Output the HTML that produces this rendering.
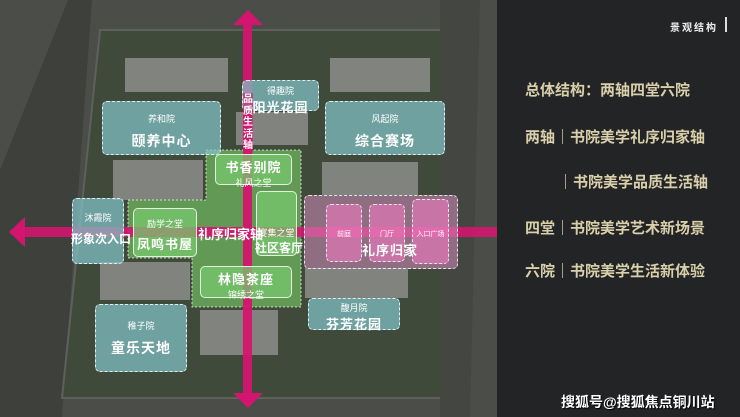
<!DOCTYPE html>
<html><head><meta charset="utf-8"><style>
*{margin:0;padding:0;box-sizing:border-box}
body{width:740px;height:417px;overflow:hidden;background:#4b4d48;font-family:"Liberation Sans","Noto Sans CJK SC",sans-serif;position:relative}
.a{position:absolute}
.bld{position:absolute;background:#8d8e8b;opacity:.85}
.box{position:absolute;border:1px dashed rgba(255,255,255,.8);border-radius:5px;color:#fff;text-align:center}
.teal{background:rgba(130,195,200,.72)}
.gr{background:rgba(120,200,110,.75);border:1px solid rgba(255,255,255,.8)}
.pk{background:rgba(240,120,190,.6)}
.s{font-size:9px;display:block}
.b{font-size:14px;font-weight:bold;display:block;letter-spacing:1px}
.rt{position:absolute;color:#d9cfaa;font-weight:bold;font-size:15px;font-family:"Liberation Sans","Noto Sans CJK SC",sans-serif;white-space:nowrap}
</style></head><body>
<svg class="a" style="left:0;top:0" width="500" height="417">
<polygon points="68,0 92,0 62,417 0,417 0,170" fill="#3e403c"/>
<polygon points="100,30 470,30 462,398 62,398" fill="#3f4a3b" stroke="#5e605c" stroke-width="2"/>
<polygon points="440,0 480,0 470,417 440,417" fill="#444642"/>
</svg>
<div class="bld" style="left:125px;top:58px;width:103px;height:34px"></div>
<div class="bld" style="left:330px;top:58px;width:100px;height:34px"></div>
<div class="bld" style="left:236px;top:112px;width:72px;height:33px"></div>
<div class="bld" style="left:113px;top:160px;width:90px;height:40px"></div>
<div class="bld" style="left:322px;top:162px;width:96px;height:33px"></div>
<div class="bld" style="left:100px;top:262px;width:90px;height:38px"></div>
<div class="bld" style="left:305px;top:268px;width:103px;height:30px"></div>
<div class="bld" style="left:200px;top:310px;width:78px;height:45px"></div>
<svg class="a" style="left:0;top:0" width="500" height="417">
<polygon points="206,150 301,150 301,307 192,307 192,258 128,258 128,200 206,200" fill="rgba(110,180,95,.75)" stroke="rgba(255,255,255,.7)" stroke-dasharray="2,2"/>
</svg>
<div class="a" style="left:243px;top:20px;width:9px;height:380px;background:#d4156f;opacity:.95"></div>
<div class="a" style="left:20px;top:227px;width:480px;height:10px;background:#d4156f;opacity:.9"></div>
<svg class="a" style="left:0;top:0" width="520" height="417">
<polygon points="248,10 263,25 233,25" fill="#d4156f"/>
<polygon points="248,408 263,393 233,393" fill="#d4156f"/>
<polygon points="9,232 25,217 25,247" fill="#d4156f"/>
<polygon points="515,232 500,217 500,247" fill="#d4156f"/>
</svg>
<div class="box teal" style="left:242px;top:80px;width:77px;height:31px;padding-top:3px"><span class="s">得趣院</span><span class="b" style="font-size:13px">阳光花园</span></div>
<div class="box teal" style="left:102px;top:101px;width:119px;height:54px;padding-top:10px"><span class="s">养和院</span><span class="b" style="margin-top:6px">颐养中心</span></div>
<div class="box teal" style="left:325px;top:101px;width:120px;height:54px;padding-top:10px"><span class="s">风起院</span><span class="b" style="margin-top:6px">综合赛场</span></div>
<div class="box teal" style="left:72px;top:198px;width:52px;height:66px;padding-top:12px"><span class="s">沐霞院</span><span class="b" style="font-size:12px;margin-top:6px;margin-left:-2px;white-space:nowrap;letter-spacing:0">形象次入口</span></div>
<div class="box teal" style="left:95px;top:304px;width:92px;height:68px;padding-top:14px"><span class="s">稚子院</span><span class="b" style="margin-top:6px">童乐天地</span></div>
<div class="box teal" style="left:308px;top:298px;width:92px;height:32px;padding-top:2px"><span class="s">馥月院</span><span class="b" style="font-size:13px">芬芳花园</span></div>
<div class="a" style="left:243px;top:93px;width:10px;height:60px;background:rgba(212,21,111,.6)"></div>
<div class="a" style="left:242px;top:94px;width:12px;color:#fff;font-size:10px;font-weight:bold;line-height:11.5px;text-align:center">品质生活轴</div>
<div class="box gr" style="left:215px;top:154px;width:77px;height:31px;padding-top:2px"><span class="b" style="font-size:13px">书香别院</span><span class="s">礼风之堂</span></div>
<div class="box gr" style="left:256px;top:191px;width:41px;height:65px;padding-top:34px"><span class="s">宴集之堂</span><span class="b" style="font-size:12px;letter-spacing:0;white-space:nowrap;margin-left:-2px">社区客厅</span></div>
<div class="box gr" style="left:133px;top:208px;width:64px;height:49px;padding-top:8px"><span class="s">励学之堂</span><span class="b" style="font-size:13px;margin-top:4px">凤鸣书屋</span></div>
<div class="box gr" style="left:200px;top:266px;width:92px;height:32px;padding-top:2px"><span class="b" style="font-size:13px">林隐茶座</span><span class="s">锦绣之堂</span></div>
<div class="a" style="left:198px;top:224px;color:#fff;font-weight:bold;font-size:13px">礼序归家轴</div>
<div class="box" style="left:304px;top:195px;width:154px;height:74px;background:rgba(210,140,190,.55)"></div>
<div class="box pk" style="left:326px;top:204px;width:36px;height:58px;padding-top:24px"><span class="s" style="font-size:7px">前庭</span></div>
<div class="box pk" style="left:369px;top:204px;width:36px;height:58px;padding-top:24px"><span class="s" style="font-size:7px">门厅</span></div>
<div class="box pk" style="left:412px;top:199px;width:37px;height:65px;padding-top:29px"><span class="s" style="font-size:7px">入口广场</span></div>
<div class="a" style="left:362px;top:240px;color:#fff;font-weight:bold;font-size:13px;letter-spacing:1px">礼序归家</div>
<div class="a" style="left:497px;top:0;width:243px;height:417px;background:#232426"></div>
<div class="a" style="left:670px;top:19px;color:#eee;font-size:10px;font-weight:bold;letter-spacing:2px">景观结构</div>
<div class="a" style="left:725px;top:17px;width:2px;height:15px;background:#ddd"></div>
<div class="rt" style="left:525px;top:79px">总体结构：两轴四堂六院</div>
<div class="rt" style="left:525px;top:126px">两轴｜书院美学礼序归家轴</div>
<div class="rt" style="left:558px;top:171px">｜书院美学品质生活轴</div>
<div class="rt" style="left:525px;top:217px">四堂｜书院美学艺术新场景</div>
<div class="rt" style="left:525px;top:260px">六院｜书院美学生活新体验</div>
<div class="a" style="left:561px;top:392px;color:#fff;font-size:14px;font-weight:bold;text-shadow:1px 1px 1px #000">搜狐号@搜狐焦点铜川站</div>
</body></html>
